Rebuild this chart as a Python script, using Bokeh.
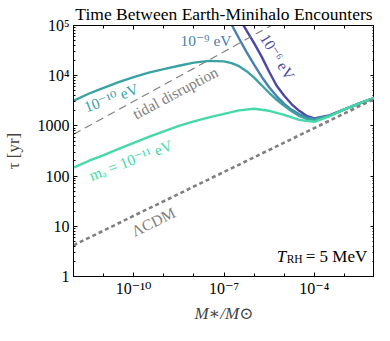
import math
from bokeh.plotting import figure
from bokeh.models import Range1d, FixedTicker, LogAxis, CustomJSTickFormatter
from bokeh.core.properties import value
from bokeh.embed import file_html
from bokeh.resources import INLINE

# ---------------- data (log10 of M*/Msun, and tau in years) ----------------
lgm_1e11 = [-12, -11.5, -11, -10.5, -10, -9.5, -9, -8.5, -8, -7.5, -7, -6.5, -6,
            -5.5, -5, -4.5, -4, -3.5, -3, -2.5, -2]
tau_1e11 = [148, 200, 263, 347, 457, 603, 776, 1000, 1230, 1480, 1740, 2040, 2190,
            2000, 1660, 1320, 1200, 1550, 2140, 2820, 3630]

lgm_1e10 = [-12, -11.5, -11, -10.5, -10, -9.5, -9, -8.5, -8, -7.5, -7, -6.75, -6.5,
            -6.25, -6, -5.75, -5.5, -5.25, -5, -4.75, -4.5, -4.25, -4, -3.5, -3, -2.5, -2]
tau_1e10 = [3160, 4370, 5750, 7410, 9330, 11500, 13500, 15800, 18200, 19700, 19300,
            17800, 15500, 12300, 9120, 6460, 4570, 3310, 2510, 1950, 1580, 1380, 1320,
            1580, 2140, 2820, 3630]

lgm_1e9 = [-7, -6.75, -6.5, -6.25, -6, -5.75, -5.5, -5.25, -5, -4.75, -4.5, -4.25, -4,
           -3.5, -3, -2.5, -2]
tau_1e9 = [200000, 105000, 55000, 29500, 16600, 9550, 5890, 3890, 2750, 2090, 1700,
           1480, 1380, 1600, 2140, 2820, 3630]

lgm_1e6 = [-6.75, -6.5, -6.25, -6, -5.75, -5.5, -5.25, -5, -4.75, -4.5, -4.25, -4,
           -3.5, -3, -2.5, -2]
tau_1e6 = [316000, 141000, 79400, 44700, 24000, 12000, 6310, 3980, 2690, 2000, 1580,
           1410, 1620, 2140, 2820, 3630]

lgm_lcdm = [-12, -11, -10, -9, -8, -7, -6, -5, -4, -3, -2]
tau_lcdm = [4.2, 8.2, 16.2, 31.6, 62, 121, 237, 464, 906, 1770, 3460]

lgm_tidal = [-12, -11, -10, -9, -8, -7, -6, -5]
tau_tidal = [680, 1450, 3100, 6600, 14000, 30000, 65000, 138000]

x_major = [1e-10, 1e-7, 1e-4]
x_labels = ["10⁻¹⁰", "10⁻⁷", "10⁻⁴"]
y_major = [1, 10, 100, 1000, 10000, 100000]
y_labels = ["1", "10", "100", "1000", "10⁴", "10⁵"]


def m(lg):
    return [10.0 ** v for v in lg]


SERIF = "'Liberation Serif', 'DejaVu Serif', serif"
C_11 = "#45d9a9"
C_10 = "#3aa2a4"
C_9 = "#4a80b0"
C_6 = "#4b49a6"
GRAY = "#808080"

p = figure(width=374, height=325, x_axis_type="log", y_axis_type="log",
           x_range=Range1d(1e-12, 1e-2), y_range=Range1d(1, 1e5),
           output_backend="svg", toolbar_location=None,
           title="Time Between Earth-Minihalo Encounters",
           min_border_left=65, min_border_right=0, min_border_top=19, min_border_bottom=0)

p.title.text_font = SERIF
p.title.text_font_size = "17.5px"
p.title.text_font_style = "normal"
p.title.align = "center"
p.title.text_color = "black"
p.title.standoff = 3
p.title.offset = 0

p.grid.visible = False
p.outline_line_color = "black"
p.outline_line_width = 1
p.background_fill_color = "white"
p.border_fill_color = "white"

x_minor = [10.0 ** k for k in range(-12, -1)]
y_minor = [k * 10.0 ** d for d in range(0, 5) for k in range(2, 10)]

for ax in p.xaxis:
    ax.ticker = FixedTicker(ticks=x_major, minor_ticks=x_minor)
    ax.major_label_overrides = dict(zip(x_major, x_labels))
    ax.axis_label = "M∗/M⊙"
for ax in p.yaxis:
    ax.ticker = FixedTicker(ticks=y_major, minor_ticks=y_minor)
    ax.major_label_overrides = dict(zip(y_major, y_labels))
    ax.axis_label = "τ [yr]"

for ax in list(p.xaxis) + list(p.yaxis):
    ax.major_tick_in = 4
    ax.major_tick_out = 0
    ax.minor_tick_in = 2
    ax.minor_tick_out = 0
    ax.major_label_text_font = SERIF
    ax.major_label_text_font_size = "16px"
    ax.major_label_text_color = "black"
    ax.axis_label_text_font = SERIF
    ax.axis_label_text_font_size = "17px"
    ax.axis_label_text_font_style = "italic"
    ax.axis_line_color = "black"
    ax.major_tick_line_color = "black"
    ax.minor_tick_line_color = "black"
p.xaxis.minor_tick_in = 3
p.xaxis.major_label_standoff = 3
p.xaxis.axis_label_standoff = 4
p.yaxis.major_label_standoff = 4
p.yaxis.axis_label_standoff = 12
p.yaxis.axis_label_text_font_style = "normal"

blank = CustomJSTickFormatter(code="return '';")
top = LogAxis(ticker=FixedTicker(ticks=x_major, minor_ticks=x_minor), formatter=blank,
              major_tick_in=4, major_tick_out=0,
              minor_tick_in=3, minor_tick_out=0, major_label_standoff=0)
right = LogAxis(ticker=FixedTicker(ticks=y_major, minor_ticks=y_minor), formatter=blank,
                major_tick_in=4, major_tick_out=0,
                minor_tick_in=2, minor_tick_out=0, major_label_standoff=0)
p.add_layout(top, "above")
p.add_layout(right, "right")

# ---------------- curves ----------------
p.line(m(lgm_1e6), tau_1e6, line_color=C_6, line_width=2.4)
p.line(m(lgm_1e9), tau_1e9, line_color=C_9, line_width=2.4)
p.line(m(lgm_1e10), tau_1e10, line_color=C_10, line_width=2.4)
p.line(m(lgm_1e11), tau_1e11, line_color=C_11, line_width=2.4)
p.line(m(lgm_tidal), tau_tidal, line_color=GRAY, line_width=1.2, line_dash="8 5")
p.line(m(lgm_lcdm), tau_lcdm, line_color=GRAY, line_width=2.6, line_dash="4 3")

# ---------------- in-plot labels ----------------
def lab(lx, ly, txt, color, ang_deg=0.0, size="15.5px", style="normal", align="center"):
    p.text(x=[10.0 ** lx], y=[10.0 ** ly], text=[txt], text_color=color,
           angle=math.radians(ang_deg), text_font=value(SERIF), text_font_size=size,
           text_font_style=style, text_align=align, text_baseline="middle")


lab(-7.60, 4.70, "10⁻⁹ eV", C_9)
lab(-5.22, 4.38, "10⁻⁶ eV", C_6, -58)
lab(-10.75, 3.56, "10⁻¹⁰ eV", C_10, 20)
lab(-8.62, 3.66, "tidal disruption", GRAY, 28)
lab(-10.10, 2.32, "mₐ = 10⁻¹¹ eV", C_11, 21)
lab(-9.35, 1.09, "ΛCDM", GRAY, 26)

# T_RH = 5 MeV
p.text(x=[10.0 ** -5.25], y=[10.0 ** 0.40], text=["T"], text_color="black",
       text_font=value(SERIF), text_font_size="17px", text_font_style="italic",
       text_align="left", text_baseline="alphabetic")
p.text(x=[10.0 ** -5.25], y=[10.0 ** 0.40], text=["RH"], text_color="black",
       text_font=value(SERIF), text_font_size="11.5px", text_align="left",
       text_baseline="alphabetic", x_offset=10, y_offset=3)
p.text(x=[10.0 ** -5.25], y=[10.0 ** 0.40], text=["= 5 MeV"], text_color="black",
       text_font=value(SERIF), text_font_size="17px", text_align="left",
       text_baseline="alphabetic", x_offset=29)

open("out.html", "w").write(file_html(p, INLINE))
